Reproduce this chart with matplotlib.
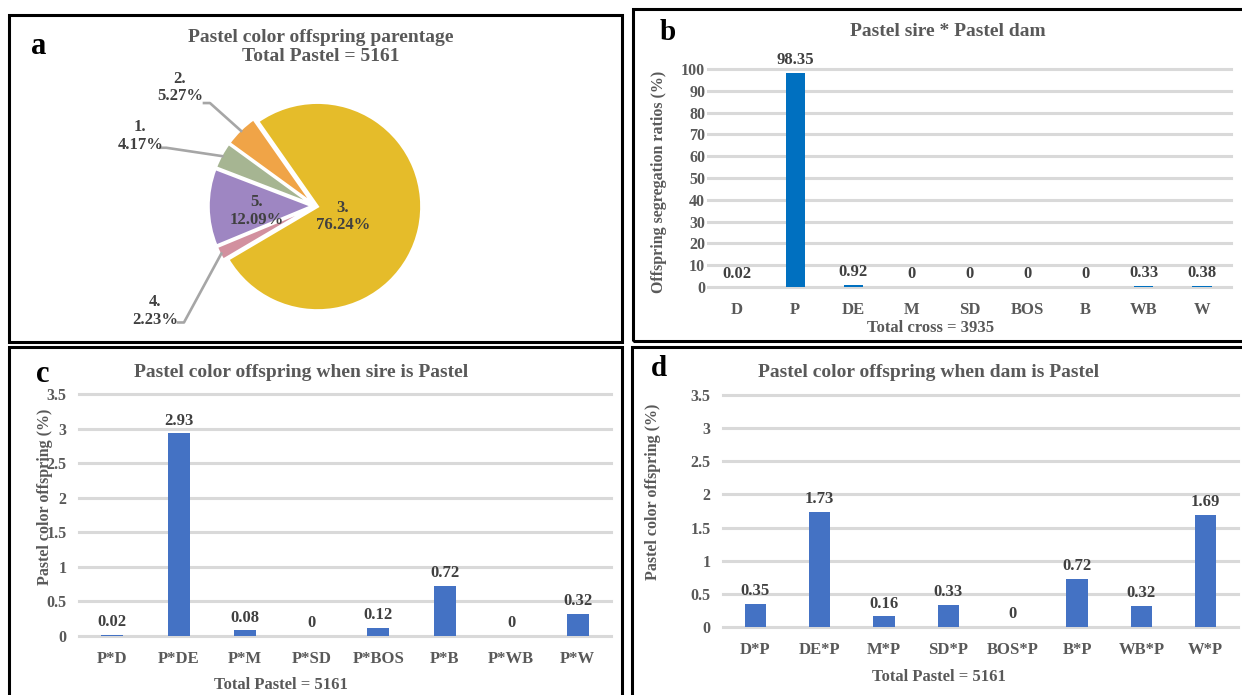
import numpy as np
import matplotlib.pyplot as plt
from matplotlib.patches import Rectangle

plt.rcParams['font.family'] = ['Liberation Serif', 'DejaVu Serif']
plt.rcParams['font.weight'] = 'bold'
plt.rcParams['axes.labelweight'] = 'bold'

# pie: offspring parentage (clockwise from the top)
pie_labels = ['3.', '4.', '5.', '1.', '2.']
pie_shares = [76.24, 2.23, 12.09, 4.17, 5.27]
pie_colors = ['#E5BC2A', '#D2909F', '#9E86C2', '#A6B592', '#F0A447']

b_cats = ['D', 'P', 'DE', 'M', 'SD', 'BOS', 'B', 'WB', 'W']
b_vals = [0.02, 98.35, 0.92, 0, 0, 0, 0, 0.33, 0.38]

c_cats = ['P*D', 'P*DE', 'P*M', 'P*SD', 'P*BOS', 'P*B', 'P*WB', 'P*W']
c_vals = [0.02, 2.93, 0.08, 0, 0.12, 0.72, 0, 0.32]

d_cats = ['D*P', 'DE*P', 'M*P', 'SD*P', 'BOS*P', 'B*P', 'WB*P', 'W*P']
d_vals = [0.35, 1.73, 0.16, 0.33, 0, 0.72, 0.32, 1.69]

W, H = 1242, 695
TITLE = '#595959'
LABEL = '#404040'
GRID = '#D9D9D9'

fig = plt.figure(figsize=(W / 100, H / 100), dpi=100)


def px_axes(x0, y0, x1, y1):
    return fig.add_axes([x0 / W, 1 - y1 / H, (x1 - x0) / W, (y1 - y0) / H])


def px_text(x, y, s, **kw):
    fig.text(x / W, 1 - y / H, s, **kw)


# panel frames
for x0, y0, x1, y1 in [(9, 15, 622, 342), (633, 9, 1250, 341),
                       (9, 347, 622, 705), (632, 347, 1250, 705)]:
    fig.patches.append(Rectangle((x0 / W, 1 - y1 / H), (x1 - x0) / W, (y1 - y0) / H,
                                 transform=fig.transFigure, fill=False,
                                 edgecolor='black', linewidth=2.2))

# ---- a: pie ----
ax = px_axes(315 - 156, 206 - 156, 315 + 156, 206 + 156)
wedges, _ = ax.pie(pie_shares, colors=pie_colors, startangle=125, counterclock=False,
                   explode=[0.025] * 5, radius=1.0,
                   wedgeprops=dict(edgecolor='white', linewidth=2))
ax.set_xlim(-1.5, 1.5)
ax.set_ylim(-1.5, 1.5)
ax.set_aspect('equal')
ax.axis('off')

inside = {'3.': (0.27, -0.10), '5.': (-0.56, -0.05)}
outside = {'2.': ((-1.01, 0.99), (-1.08, 0.99), (-1.30, 1.14)),
           '1.': ((-1.43, 0.56), (-1.50, 0.56), (-1.68, 0.67)),
           '4.': ((-1.26, -1.12), (-1.33, -1.12), (-1.54, -1.01))}
for w, lab, share in zip(wedges, pie_labels, pie_shares):
    txt = f'{lab}\n{share:.2f}%'
    if lab in inside:
        x, y = inside[lab]
        ax.text(x, y, txt, ha='center', va='center', fontsize=12, color=LABEL,
                linespacing=1.15)
    else:
        mid = np.deg2rad((w.theta1 + w.theta2) / 2)
        sx, sy = 1.0 * np.cos(mid), 1.0 * np.sin(mid)
        elbow, end, tpos = outside[lab]
        ax.plot([sx, elbow[0], end[0]], [sy, elbow[1], end[1]], color='#A6A6A6',
                lw=1.9, clip_on=False, solid_capstyle='butt')
        ax.text(tpos[0], tpos[1], txt, ha='center', va='center', fontsize=12,
                color=LABEL, linespacing=1.15)

px_text(321, 47, 'Pastel color offspring parentage\nTotal Pastel = 5161', ha='center',
        va='center', fontsize=14, color=TITLE, linespacing=1.1)
px_text(39, 47, 'a', ha='center', va='center', fontsize=22, color='black')


# ---- bar panels ----
def bar_panel(box, cats, vals, color, ymax, ystep, ytick_pad, ylabel, ylab_pos,
              xlabel, xlab_pos):
    ax = px_axes(*box)
    x = np.arange(len(cats))
    bars = ax.bar(x, vals, width=0.33, color=color, zorder=3)
    ax.bar_label(bars, labels=[f'{v:g}' for v in vals], padding=3.5, fontsize=12,
                 color=LABEL)
    ax.set_xlim(-0.5, len(cats) - 0.5)
    ax.set_ylim(0, ymax)
    ticks = np.arange(0, ymax + ystep / 2, ystep)
    ax.set_yticks(ticks)
    ax.set_yticklabels([f'{t:g}' for t in ticks])
    ax.set_xticks(x)
    ax.set_xticklabels(cats)
    ax.tick_params(axis='y', length=0, pad=ytick_pad, labelsize=11.5, labelcolor=TITLE)
    ax.tick_params(axis='x', length=0, pad=10.5, labelsize=12, labelcolor=TITLE)
    for s in ax.spines.values():
        s.set_visible(False)
    ax.set_axisbelow(True)
    ax.yaxis.grid(True, color=GRID, linewidth=2.2)
    for gl in ax.get_ygridlines():
        gl.set_clip_on(False)
    ax.set_ylabel(ylabel, fontsize=11.5, color=TITLE)
    ax.yaxis.set_label_coords(*ylab_pos)
    ax.set_xlabel(xlabel, fontsize=12, color=TITLE)
    ax.xaxis.set_label_coords(*xlab_pos)
    ax.patch.set_alpha(0)
    return ax


def frac(box, px, py):
    x0, y0, x1, y1 = box
    return ((px - x0) / (x1 - x0), (y1 - py) / (y1 - y0))


box_b = (708, 69, 1231, 287)
bar_panel(box_b, b_cats, b_vals, '#0070C0', 100, 10, 2,
          'Offspring segregation ratios (%)', frac(box_b, 667, 182),
          'Total cross = 3935', frac(box_b, 931, 320))
px_text(948, 32, 'Pastel sire * Pastel dam', ha='center', va='center', fontsize=14,
        color=TITLE)
px_text(668, 32, 'b', ha='center', va='center', fontsize=21, color='black')

box_c = (79, 394, 611, 636)
bar_panel(box_c, c_cats, c_vals, '#4472C4', 3.5, 0.5, 9,
          'Pastel color offspring (%)', frac(box_c, 53, 497),
          'Total Pastel = 5161', frac(box_c, 281, 677))
px_text(301, 372, 'Pastel color offspring when sire is Pastel', ha='center',
        va='center', fontsize=14, color=TITLE)
px_text(43, 374, 'c', ha='center', va='center', fontsize=22, color='black')

box_d = (723, 395, 1238, 627)
bar_panel(box_d, d_cats, d_vals, '#4472C4', 3.5, 0.5, 9,
          'Pastel color offspring (%)', frac(box_d, 661, 492),
          'Total Pastel = 5161', frac(box_d, 939, 669))
px_text(929, 372, 'Pastel color offspring when dam is Pastel', ha='center',
        va='center', fontsize=14, color=TITLE)
px_text(659, 368, 'd', ha='center', va='center', fontsize=21, color='black')

fig.savefig('out.png', dpi=100)
